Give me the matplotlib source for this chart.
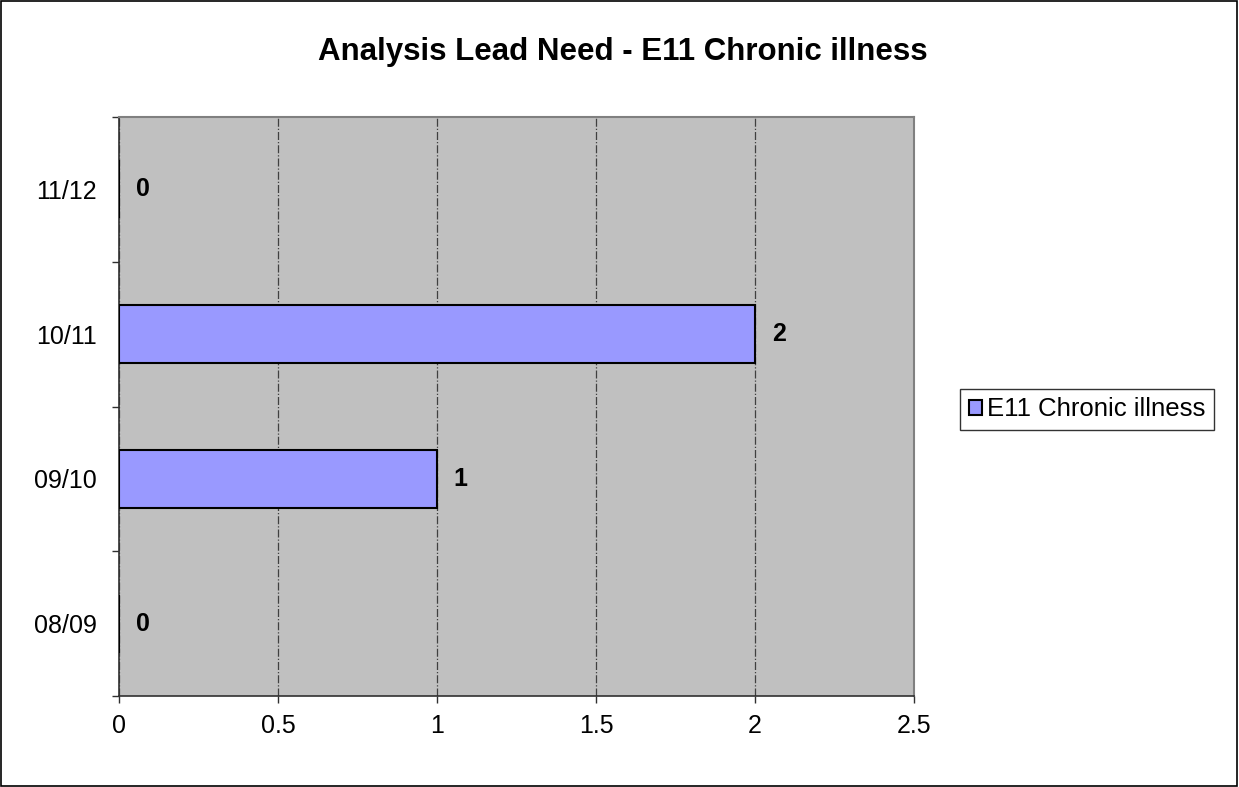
import matplotlib
matplotlib.use("Agg")
import matplotlib.pyplot as plt
from matplotlib.patches import Rectangle
from matplotlib.ticker import FixedLocator

plt.rcParams['font.family'] = ['Liberation Sans', 'DejaVu Sans']

categories = ["08/09", "09/10", "10/11", "11/12"]
values = [0, 1, 2, 0]
series_name = "E11 Chronic illness"
title = "Analysis Lead Need - E11 Chronic illness"
xticks = [0, 0.5, 1, 1.5, 2, 2.5]
xticklabels = ["0", "0.5", "1", "1.5", "2", "2.5"]

W, H = 1239, 787
fig = plt.figure(figsize=(W / 100, H / 100), dpi=100)
fig.patch.set_facecolor("white")
fig.add_artist(Rectangle((0.0005, 0.0008), 0.998, 0.998, transform=fig.transFigure,
                         fill=False, edgecolor="black", linewidth=1.2))

left, right, top, bottom = 119, 914, 117, 696
ax = fig.add_axes([left / W, 1 - bottom / H, (right - left) / W, (bottom - top) / H])
ax.set_facecolor("#C0C0C0")

ypos = list(range(len(categories)))
ax.barh(ypos, values, height=0.4, color="#9999FF", edgecolor="black", linewidth=1.5,
        label=series_name, zorder=3)
for y, v in zip(ypos, values):
    ax.annotate(str(v), xy=(v, y), xytext=(12, 0), textcoords="offset points",
                ha="left", va="center", fontsize=18, fontweight="bold", zorder=4)

ax.set_xlim(0, 2.5)
ax.set_ylim(-0.5, len(categories) - 0.5)
ax.set_xticks(xticks)
ax.set_xticklabels(xticklabels, fontsize=18)
ax.set_yticks(ypos)
ax.set_yticklabels(categories, fontsize=18)
ax.yaxis.set_minor_locator(FixedLocator([i - 0.5 for i in range(len(categories) + 1)]))
ax.tick_params(axis="y", which="major", length=0, pad=16)
ax.tick_params(axis="y", which="minor", length=5, width=1, direction="out", color="#303030")
ax.tick_params(axis="x", which="major", length=5, width=1, direction="out", pad=8,
               color="#303030")

ax.xaxis.grid(True, color="#404040", linestyle="-.", linewidth=0.9, zorder=1)
ax.set_axisbelow(True)

for s in ["top", "right"]:
    ax.spines[s].set_color("#808080")
    ax.spines[s].set_linewidth(1.5)
for s in ["left", "bottom"]:
    ax.spines[s].set_color("#303030")
    ax.spines[s].set_linewidth(1.2)

fig.text(0.503, 1 - 52 / H, title, ha="center", va="center", fontsize=22.5, fontweight="bold")

leg = ax.legend(loc="center left", bbox_to_anchor=(960 / W, 1 - 409.5 / H),
                bbox_transform=fig.transFigure, fontsize=18.5, frameon=True, fancybox=False,
                handlelength=0.5, handleheight=0.5, handletextpad=0.2, borderpad=0.35,
                borderaxespad=0)
leg.get_frame().set_edgecolor("black")
leg.get_frame().set_linewidth(1.0)

fig.savefig("out.png", dpi=100)
